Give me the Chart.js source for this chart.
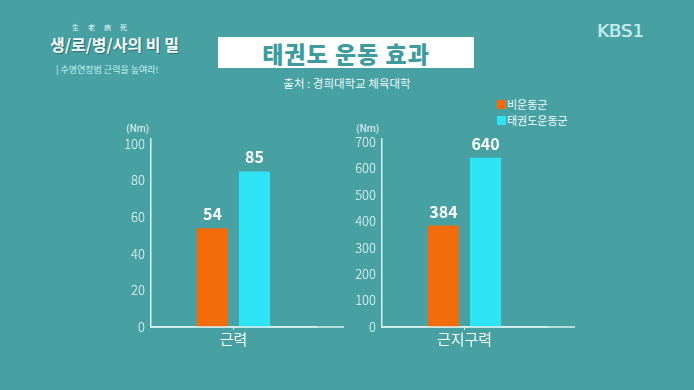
<!DOCTYPE html>
<html>
<head>
<meta charset="utf-8">
<script src="https://cdn.jsdelivr.net/npm/chart.js@4"></script>
<style>
  html, body { margin: 0; padding: 0; }
  body {
    width: 694px; height: 390px; overflow: hidden; position: relative;
    background: #47a1a3;
    font-family: "Noto Sans CJK KR", "Noto Sans", sans-serif;
    color: #f2fbfb;
  }
  .abs { position: absolute; white-space: nowrap; }
  #hanja { left: 72px; top: 22px; font-size: 7px; color: #e8f7f7; letter-spacing: 9px; }
  #logo { left: 50px; top: 32px; font-size: 16px; font-weight: bold; color: #f6fbfb; text-shadow: 1px 1px 1px #2c6d70; }
  #sub { left: 56px; top: 63px; font-size: 9px; color: #c6f0f1; }
  #kbs { left: 597px; top: 20px; font-size: 18px; font-family: "DejaVu Sans", sans-serif; color: #c4e9ea; text-shadow: 0.5px 0 0 #c4e9ea; }
  #titleBox { left: 218px; top: 37px; width: 256px; height: 31px; background: #ffffff; }
  #title { left: 218px; top: 36px; width: 256px; text-align: center; font-size: 23px; font-weight: 900; color: #3f9c9e; letter-spacing: 1px; }
  #source { left: 218px; top: 75px; width: 258px; text-align: center; font-size: 11.5px; color: #eef9f9; }
  .sw { width: 9px; height: 9px; }
  .lg { font-size: 11px; color: #f2fbfb; }
  .unit { font-size: 10px; color: #eef9f9; }
  canvas { position: absolute; }
</style>
</head>
<body>
<div class="abs" id="hanja">生老病死</div>
<div class="abs" id="logo">생/로/병/사의 비 밀</div>
<div class="abs" id="sub">| 수명연장법 근력을 높여라!</div>
<div class="abs" id="kbs">KBS1</div>
<div class="abs" id="titleBox"></div>
<div class="abs" id="title">태권도 운동 효과</div>
<div class="abs" id="source">출처 : 경희대학교 체육대학</div>

<div class="abs sw" style="left:497px;top:100px;background:#f36c0b"></div>
<div class="abs lg" style="left:507px;top:96px">비운동군</div>
<div class="abs sw" style="left:497px;top:116px;background:#2fe4f4"></div>
<div class="abs lg" style="left:507px;top:112px">태권도운동군</div>

<div class="abs unit" style="left:126px;top:120px">(Nm)</div>
<div class="abs unit" style="left:356px;top:120px">(Nm)</div>

<canvas id="chart1" width="250" height="250" style="left:100px;top:110px;width:250px;height:250px"></canvas>
<canvas id="chart2" width="250" height="250" style="left:330px;top:110px;width:250px;height:250px"></canvas>

<script>
// data
const seriesNames = ['비운동군', '태권도운동군'];
const seriesColors = ['#f36c0b', '#2fe4f4'];
const strengthLabels = ['근력'];
const strengthNone = [54];
const strengthTkd = [85];
const enduranceLabels = ['근지구력'];
const enduranceNone = [384];
const enduranceTkd = [640];

const lineColor = '#d9f1f1';

// value labels above bars + baseline that runs past the plot area
const barExtras = {
  id: 'barExtras',
  afterDatasetsDraw(chart) {
    const ctx = chart.ctx;
    ctx.save();
    ctx.fillStyle = '#ffffff';
    ctx.font = 'bold 16px "Noto Sans CJK KR", sans-serif';
    ctx.textAlign = 'center';
    ctx.textBaseline = 'bottom';
    chart.data.datasets.forEach((ds, i) => {
      chart.getDatasetMeta(i).data.forEach((bar, j) => {
        ctx.fillText(ds.data[j], bar.x, bar.y - 6);
      });
    });
    ctx.restore();
  },
  afterDraw(chart) {
    const a = chart.chartArea;
    const ctx = chart.ctx;
    ctx.save();
    ctx.strokeStyle = lineColor;
    ctx.lineWidth = 1.5;
    ctx.beginPath();
    ctx.moveTo(a.left, a.bottom);
    ctx.lineTo(a.left + 193, a.bottom);
    ctx.stroke();
    ctx.restore();
  }
};

function makeChart(id, labels, none, tkd, max, step, axisWidth, padRight) {
  return new Chart(document.getElementById(id), {
    type: 'bar',
    data: {
      labels: labels,
      datasets: [
        { label: seriesNames[0], data: none, backgroundColor: seriesColors[0],
          categoryPercentage: 0.51, barPercentage: 0.74 },
        { label: seriesNames[1], data: tkd, backgroundColor: seriesColors[1],
          categoryPercentage: 0.51, barPercentage: 0.74 }
      ]
    },
    options: {
      responsive: false,
      animation: false,
      layout: { padding: { top: 29, right: padRight, left: 0, bottom: 0 } },
      plugins: { legend: { display: false }, tooltip: { enabled: false } },
      scales: {
        x: {
          grid: { display: true, drawOnChartArea: false, offset: false, tickLength: 3, color: lineColor },
          border: { display: true, color: lineColor, width: 1.5 },
          ticks: { color: '#f4fbfb', font: { size: 15, family: '"Noto Sans CJK KR", sans-serif' }, padding: 0 },
          afterFit(scale) { scale.height = 33; }
        },
        y: {
          min: 0,
          max: max,
          grid: { display: false, drawTicks: false },
          border: { display: true, color: lineColor, width: 1.5 },
          ticks: {
            stepSize: step,
            includeBounds: false,
            autoSkip: false,
            padding: 6,
            color: '#eef9f9',
            font: { size: 13, family: '"Noto Sans CJK KR", sans-serif', weight: 300 },
            callback: v => (v % step === 0 ? v : '')
          },
          afterFit(scale) { scale.width = axisWidth; }
        }
      }
    },
    plugins: [barExtras]
  });
}

makeChart('chart1', strengthLabels, strengthNone, strengthTkd, 102.7, 20, 51, 34);
makeChart('chart2', enduranceLabels, enduranceNone, enduranceTkd, 711, 100, 52, 33);
</script>
</body>
</html>
